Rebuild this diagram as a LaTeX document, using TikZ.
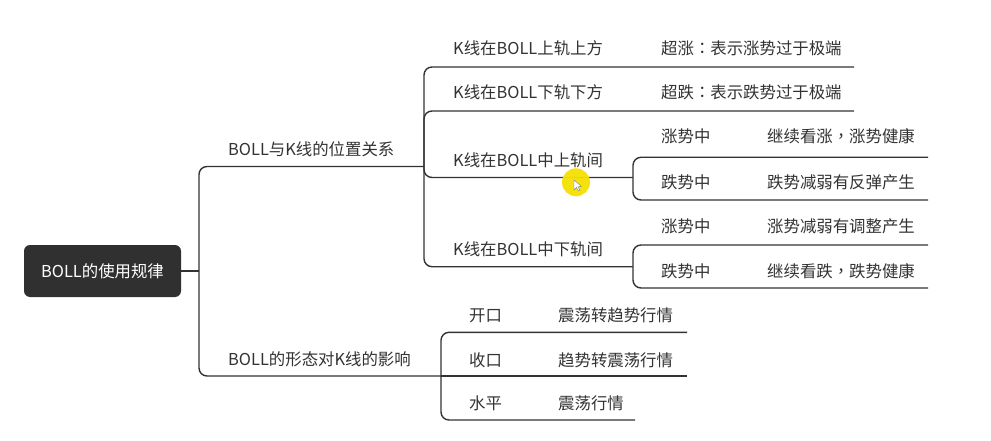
\documentclass[tikz,border=0pt]{standalone}
\usepackage{fontspec}
\setmainfont{Noto Sans CJK SC}
\newfontfamily\tcp{Noto Sans CJK TC}
\definecolor{ink}{HTML}{333333}
\definecolor{rootfill}{HTML}{303030}
\definecolor{hl}{HTML}{F5E000}
\begin{document}
\begin{tikzpicture}[x=1pt,y=-1pt,
  lbl/.style={anchor=base west, inner sep=0pt, text=ink, font=\fontsize{16.4}{16.4}\selectfont},
  link/.style={draw=ink, line width=1.4pt, rounded corners=8pt},
  rootbox/.style={fill=rootfill, rounded corners=6pt, text=white, inner sep=0pt,
    minimum width=157pt, minimum height=52pt, font=\fontsize{16.4}{16.4}\selectfont}]
\useasboundingbox (0,0) rectangle (991,441);
\fill[white] (0,0) rectangle (991,441);

% root
\node[rootbox] (root) at (102.5,271) {BOLL的使用规律};

% junctions
\coordinate (j0) at (199,271);
\coordinate (ja) at (424,166.5);
\coordinate (jb) at (441,376);
\coordinate (ja3) at (633,177.5);
\coordinate (ja4) at (633,266.7);
% line ends
\coordinate (ea1) at (854,67);
\coordinate (ea2) at (854,111);
\coordinate (ea3a) at (928,157.3);
\coordinate (ea3b) at (928,200);
\coordinate (ea4a) at (928,245);
\coordinate (ea4b) at (928,288);
\coordinate (eb1) at (687,332.3);
\coordinate (eb2) at (687,376);
\coordinate (eb3) at (635,420);

% connectors
\draw[link] (root.east) -- (j0);
\draw[link] (j0) |- (ja);
\draw[link] (j0) |- (jb);
\draw[link] (ja) |- (ea1);
\draw[link] (ja) |- (ea2);
\draw[link] (ja) |- (ja3);
\draw[link] (ja) |- (ja4);
\draw[link] (ja3) |- (ea3a);
\draw[link] (ja3) |- (ea3b);
\draw[link] (ja4) |- (ea4a);
\draw[link] (ja4) |- (ea4b);
\draw[link] (jb) |- (eb1);
\draw[link] (jb) -- (eb2);
\draw[link] (jb) |- (eb3);

% labels (baseline = visual centre + 6)
\node[lbl] (a) at (228,156) {BOLL与K线的位置关系};
\node[lbl] (b) at (228,365) {BOLL的形态对K线的影响};

\node[lbl] (a1) at (453,55) {K线在BOLL上轨上方};
\node[lbl] (a2) at (453,99) {K线在BOLL下轨下方};
\node[lbl] (a3) at (453,166.5) {K线在BOLL中上轨间};
\node[lbl] (a4) at (453,255) {K线在BOLL中下轨间};

\node[lbl] (a1l) at (661,55) {超涨{\tcp ：}表示涨势过于极端};
\node[lbl] (a2l) at (661,99) {超跌{\tcp ：}表示跌势过于极端};

\node[lbl] (a3a) at (661,143) {涨势中};
\node[lbl] (a3al) at (767,143) {继续看涨{\tcp ，}涨势健康};
\node[lbl] (a3b) at (661,189) {跌势中};
\node[lbl] (a3bl) at (767,189) {跌势减弱有反弹产生};
\node[lbl] (a4a) at (661,233) {涨势中};
\node[lbl] (a4al) at (767,233) {涨势减弱有调整产生};
\node[lbl] (a4b) at (661,277.5) {跌势中};
\node[lbl] (a4bl) at (767,277.5) {继续看跌{\tcp ，}跌势健康};

\node[lbl] (b1) at (469,321) {开口};
\node[lbl] (b1l) at (558,321) {震荡转趋势行情};
\node[lbl] (b2) at (469,366) {收口};
\node[lbl] (b2l) at (558,366) {趋势转震荡行情};
\node[lbl] (b3) at (469,409) {水平};
\node[lbl] (b3l) at (558,409) {震荡行情};

% cursor highlight
\fill[hl, opacity=0.95] (576,182.3) circle (14);
\filldraw[fill=white, draw=gray, line width=0.4pt]
  (574,180) -- (574,190) -- (576.5,187.5) -- (578.5,191) -- (580,190.3) -- (578,186.8) -- (581.5,186.5) -- cycle;
\end{tikzpicture}
\end{document}
